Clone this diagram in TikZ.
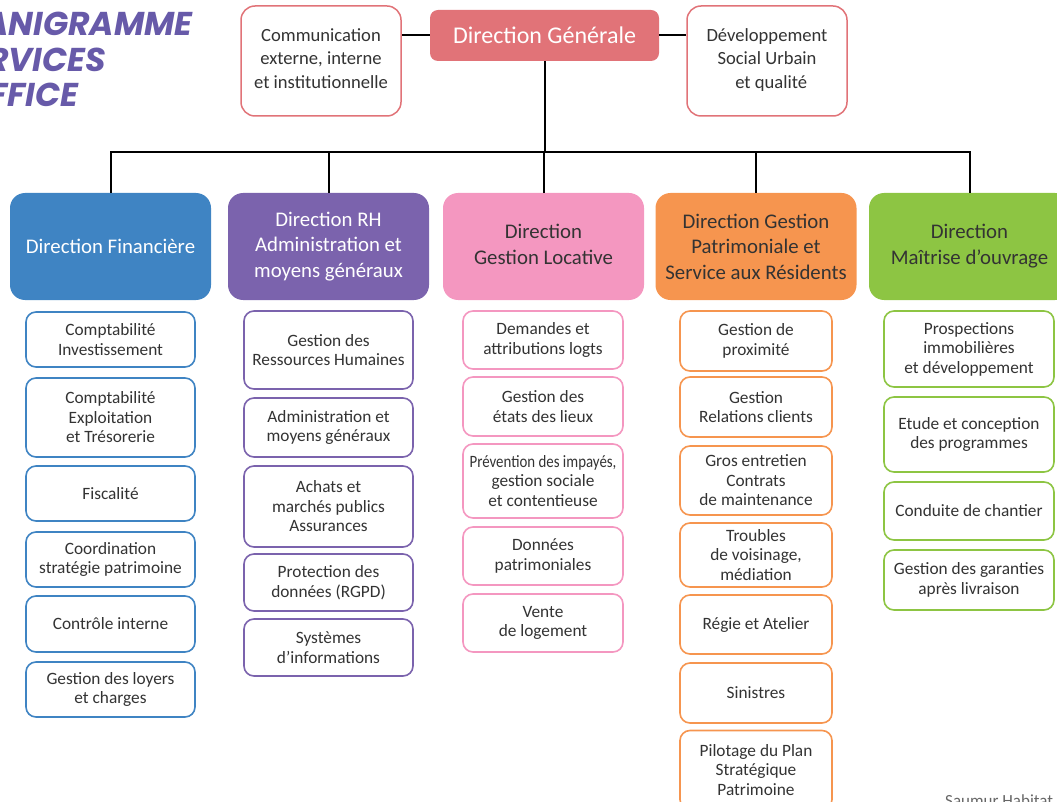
\documentclass[tikz,border=0pt]{standalone}
\usepackage{fontspec}
\usepackage{graphicx}
\setmainfont{Carlito}
\newfontfamily\titlefont{Poppins}
\usetikzlibrary{positioning}
\definecolor{dgred}{HTML}{E17378}
\definecolor{finblue}{HTML}{3F84C3}
\definecolor{rhpurple}{HTML}{7B63AD}
\definecolor{locpink}{HTML}{F497C0}
\definecolor{patorange}{HTML}{F6954F}
\definecolor{moagreen}{HTML}{8DC543}
\definecolor{titlepurple}{HTML}{675AA9}
\definecolor{textgray}{HTML}{333333}

\begin{document}
\begin{tikzpicture}[
        x=1pt, y=-1pt,
        link/.style={line width=2pt, black},
        headbox/.style={
            fill=#1, rounded corners=15pt,
            minimum width=201pt, minimum height=107pt,
            align=center, inner sep=2pt,
            font=\fontsize{20.8}{25.5}\selectfont
        },
        sidebox/.style={
            draw=dgred, line width=1.5pt, fill=white, rounded corners=14pt,
            minimum width=160pt, minimum height=110pt,
            align=center, text=textgray,
            font=\fontsize{18.6}{23.5}\selectfont
        },
        subbox/.style={
            draw=#1, line width=1.6pt, fill=white, rounded corners=10pt,
            align=center, inner sep=1pt, text=textgray,
            font=\fontsize{17.3}{19.5}\selectfont
        },
        titletext/.style={
            anchor=west, text=titlepurple, inner sep=0pt,
            font=\titlefont\bfseries\itshape\fontsize{33}{35}\selectfont
        }
    ]
    \useasboundingbox (0,0) rectangle (1057,802);
    \clip (0,0) rectangle (1057,802);

    % title
    \node[titletext] (t1) at (-16,24) {ANIGRAMME};
    \node[titletext] (t2) at (-13,60) {RVICES};
    \node[titletext] (t3) at (-11,95) {FFICE};

    % top level
    \node[headbox=dgred, text=white, minimum width=229pt, minimum height=51pt,
          rounded corners=8pt, font=\fontsize{24}{28}\selectfont] (dg) at (544.5,35.5) {Direction Générale};
    \node[sidebox] (com) at (321,61) {Communication\\externe, interne\\et institutionnelle\rule[-5pt]{0pt}{0pt}};
    \node[sidebox] (dev) at (767,61) {Développement\\Social Urbain\\\ \ et qualité\rule[-5pt]{0pt}{0pt}};

    \draw[link] (dg.west) -- (dg.west -| com.east);
    \draw[link] (dg.east) -- (dg.east -| dev.west);

    % directions
    \node[headbox=finblue, text=white] (fin) at (110.5,246.5) {Direction Financière};
    \node[headbox=rhpurple, text=white] (rh) at (328.5,246.5) {Direction RH\\Administration et\\moyens généraux};
    \node[headbox=locpink, text=textgray] (loc) at (543.5,246.5) {Direction\\Gestion Locative\rule[-4pt]{0pt}{0pt}};
    \node[headbox=patorange, text=textgray] (pat) at (756,246.5) {Direction Gestion\\Patrimoniale et\\Service aux Résidents};
    \node[headbox=moagreen, text=textgray] (moa) at (969.5,246.5) {Direction\\Maîtrise d’ouvrage\rule[-4pt]{0pt}{0pt}};

    \coordinate (bus) at (0,152);
    \draw[link] (dg.south) -- (dg.south |- bus);
    \draw[link] (fin.north) |- (moa.north |- bus) -- (moa.north);
    \draw[link] (rh.north) -- (rh.north |- bus);
    \draw[link] (loc.north) -- (loc.north |- bus);
    \draw[link] (pat.north) -- (pat.north |- bus);

    % finances
    \node[subbox=finblue, minimum width=169pt, minimum height=55pt] (fin1) at (110.5,339.5) {Comptabilité\\Investissement};
    \node[subbox=finblue, minimum width=169pt, minimum height=79pt] (fin2) at (110.5,417.5) {Comptabilité\\Exploitation\\et Trésorerie};
    \node[subbox=finblue, minimum width=169pt, minimum height=55pt] (fin3) at (110.5,493.5) {Fiscalité};
    \node[subbox=finblue, minimum width=169pt, minimum height=55pt] (fin4) at (110.5,559.5) {Coordination\\stratégie patrimoine};
    \node[subbox=finblue, minimum width=169pt, minimum height=56pt] (fin5) at (110.5,624) {Contrôle interne};
    \node[subbox=finblue, minimum width=169pt, minimum height=55pt] (fin6) at (110.5,689.5) {Gestion des loyers\\et charges};

    % RH
    \node[subbox=rhpurple, minimum width=169pt, minimum height=78pt] (rh1) at (328.5,350) {Gestion des\\Ressources Humaines};
    \node[subbox=rhpurple, minimum width=169pt, minimum height=59pt] (rh2) at (328.5,427.5) {Administration et\\moyens généraux};
    \node[subbox=rhpurple, minimum width=169pt, minimum height=81pt] (rh3) at (328.5,506.5) {Achats et\\marchés publics\\Assurances};
    \node[subbox=rhpurple, minimum width=169pt, minimum height=57pt] (rh4) at (328.5,582.5) {Protection des\\données (RGPD)};
    \node[subbox=rhpurple, minimum width=169pt, minimum height=57pt] (rh5) at (328.5,647.5) {Systèmes\\d’informations};

    % locative
    \node[subbox=locpink, minimum width=160pt, minimum height=58pt] (loc1) at (543,340) {Demandes et\\attributions logts};
    \node[subbox=locpink, minimum width=160pt, minimum height=59pt] (loc2) at (543,406.5) {Gestion des\\états des lieux};
    \node[subbox=locpink, minimum width=160pt, minimum height=74pt] (loc3) at (543,481) {\scalebox{0.86}[1]{Prévention des impayés,}\\gestion sociale\\et contentieuse};
    \node[subbox=locpink, minimum width=160pt, minimum height=58pt] (loc4) at (543,556) {Données\\patrimoniales};
    \node[subbox=locpink, minimum width=160pt, minimum height=58pt] (loc5) at (543,623) {Vente\\de logement};

    % patrimoine
    \node[subbox=patorange, minimum width=152pt, minimum height=60pt] (pat1) at (756,341) {Gestion de\\proximité};
    \node[subbox=patorange, minimum width=152pt, minimum height=60pt] (pat2) at (756,407) {Gestion\\Relations clients};
    \node[subbox=patorange, minimum width=152pt, minimum height=69pt] (pat3) at (756,480.5) {Gros entretien\\Contrats\\de maintenance};
    \node[subbox=patorange, minimum width=152pt, minimum height=64pt] (pat4) at (756,555) {Troubles\\de voisinage,\\médiation};
    \node[subbox=patorange, minimum width=152pt, minimum height=59pt] (pat5) at (756,624.5) {Régie et Atelier};
    \node[subbox=patorange, minimum width=152pt, minimum height=60pt] (pat6) at (756,693) {Sinistres};
    \node[subbox=patorange, minimum width=152pt, minimum height=79pt] (pat7) at (756,770) {Pilotage du Plan\\Stratégique\\Patrimoine};

    % maitrise d'ouvrage
    \node[subbox=moagreen, minimum width=170pt, minimum height=76pt] (moa1) at (969,349) {Prospections\\immobilières\\et développement};
    \node[subbox=moagreen, minimum width=170pt, minimum height=75pt] (moa2) at (969,434.5) {Etude et conception\\des programmes};
    \node[subbox=moagreen, minimum width=170pt, minimum height=58pt] (moa3) at (969,511) {Conduite de chantier};
    \node[subbox=moagreen, minimum width=170pt, minimum height=60pt] (moa4) at (969,580) {Gestion des garanties\\après livraison};

    \node[anchor=base west, inner sep=0pt, text=black!60, font=\fontsize{17}{20}\selectfont] (sh) at (945,806) {Saumur Habitat};
\end{tikzpicture}
\end{document}
